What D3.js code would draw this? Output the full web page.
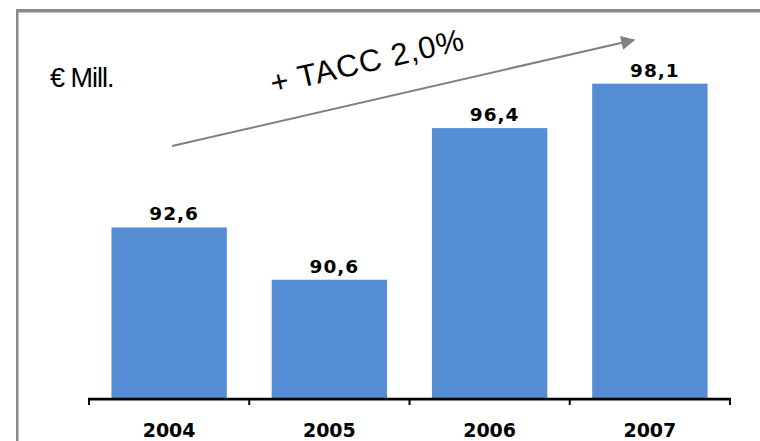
<!DOCTYPE html>
<html>
<head>
<meta charset="utf-8">
<script src="https://cdn.jsdelivr.net/npm/d3@7"></script>
<style>
  body { margin: 0; background: #fff; }
  svg { display: block; }
</style>
</head>
<body>
<svg id="canvas" width="760" height="441"></svg>
<script>
// values (millions of euros)
var years = ["2004", "2005", "2006", "2007"]
var values = [92.6, 90.6, 96.4, 98.1]
var valueLabels = ["92,6", "90,6", "96,4", "98,1"]
var unitLabel = "€ Mill."
var growthLabel = "+ TACC 2,0%"

var data = years.map(function(y, i) {
    return {year: y, value: values[i], label: valueLabels[i]}
})

var svg = d3.select("#canvas")

var x = d3.scaleBand()
    .domain(years)
    .range([89, 730])
    .padding(0)

// axis starts at 86, not zero, like the original
var y = d3.scaleLinear()
    .domain([86, 100])
    .range([400, 34])

var barW = x.bandwidth() * 0.72

// frame (top and left border)
svg.append("rect")
    .attr("x", 16).attr("y", 9)
    .attr("width", 744).attr("height", 3.5)
    .attr("fill", "#8a8a8a")
svg.append("rect")
    .attr("x", 16).attr("y", 9)
    .attr("width", 2.5).attr("height", 432)
    .attr("fill", "#8a8a8a")

// bars
svg.selectAll("rect.bar")
    .data(data)
    .enter().append("rect")
    .attr("class", "bar")
    .attr("fill", "#558ed5")
    .attr("x", function(d) { return x(d.year) + (x.bandwidth() - barW) / 2 })
    .attr("y", function(d) { return y(d.value) })
    .attr("width", barW)
    .attr("height", function(d) { return y(86) - y(d.value) })

// value labels
svg.selectAll("text.val")
    .data(data)
    .enter().append("text")
    .attr("class", "val")
    .attr("x", function(d) { return x(d.year) + x.bandwidth() / 2 + 5 })
    .attr("y", function(d) { return y(d.value) - 7 })
    .attr("text-anchor", "middle")
    .style("font-family", "'DejaVu Sans', Verdana, sans-serif")
    .style("font-weight", "bold")
    .style("font-size", "18.5px")
    .style("letter-spacing", "1px")
    .text(function(d) { return d.label })

// x axis: ticks at the band edges, labels in the middle
var edges = years.map(function(d) { return x(d) }).concat([x.range()[1]])

svg.append("line")
    .attr("x1", x.range()[0] - 1).attr("x2", x.range()[1] + 1)
    .attr("y1", 399.2).attr("y2", 399.2)
    .attr("stroke", "#000")
    .attr("stroke-width", 2.7)

svg.selectAll("line.tick")
    .data(edges)
    .enter().append("line")
    .attr("class", "tick")
    .attr("x1", function(d) { return d }).attr("x2", function(d) { return d })
    .attr("y1", 399).attr("y2", 405)
    .attr("stroke", "#000")
    .attr("stroke-width", 2)

svg.selectAll("text.year")
    .data(years)
    .enter().append("text")
    .attr("class", "year")
    .attr("x", function(d) { return x(d) + x.bandwidth() / 2 })
    .attr("y", 437)
    .attr("text-anchor", "middle")
    .style("font-family", "'DejaVu Sans', Verdana, sans-serif")
    .style("font-weight", "bold")
    .style("font-size", "19px")
    .text(function(d) { return d })

// unit label
svg.append("text")
    .attr("x", 50).attr("y", 87)
    .style("font-family", "'Liberation Sans', Arial, sans-serif")
    .style("font-size", "27px")
    .style("letter-spacing", "-1px")
    .text(unitLabel)

// growth arrow
svg.append("defs").append("marker")
    .attr("id", "head")
    .attr("viewBox", "0 0 10 10")
    .attr("refX", 9).attr("refY", 5)
    .attr("markerWidth", 8).attr("markerHeight", 7)
    .attr("markerUnits", "strokeWidth")
    .attr("orient", "auto")
    .append("path")
    .attr("d", "M0,0 L10,5 L0,10 Z")
    .attr("fill", "#808080")

var ax1 = x("2004") + x.bandwidth() / 2 + 3, ay1 = 146
var ax2 = x("2007") + x.bandwidth() / 2 - 16, ay2 = 40

svg.append("line")
    .attr("x1", ax1).attr("y1", ay1)
    .attr("x2", ax2).attr("y2", ay2)
    .attr("stroke", "#808080")
    .attr("stroke-width", 2)
    .attr("marker-end", "url(#head)")

svg.append("text")
    .attr("transform", "translate(273,94) rotate(-13)")
    .style("font-family", "'Liberation Sans', Arial, sans-serif")
    .style("font-size", "31px")
    .style("letter-spacing", "1px")
    .text(growthLabel)
</script>
</body>
</html>
